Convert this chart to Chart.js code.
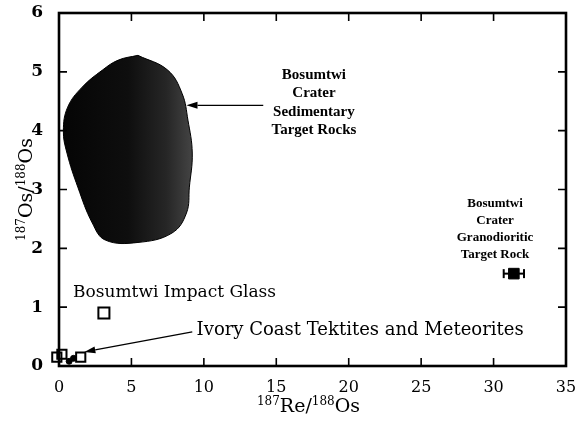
<!DOCTYPE html>
<html>
<head>
<meta charset="utf-8">
<script src="https://cdn.jsdelivr.net/npm/chart.js@4/dist/chart.umd.min.js"></script>
<style>
  html, body { margin: 0; padding: 0; background: #fff; }
  #wrap { width: 577px; height: 422px; }
</style>
</head>
<body>
<div id="wrap"><canvas id="c"></canvas></div>
<script>
// Re–Os isotope systematics: Bosumtwi crater rocks and Ivory Coast tektites
const xTicks = [0, 5, 10, 15, 20, 25, 30, 35];
const yTicks = [0, 1, 2, 3, 4, 5, 6];

// outline of the sedimentary target rock field (187Re/188Os vs 187Os/188Os)
const sedimentaryRe = [5.45, 7.5, 8.5, 8.9, 9.2, 9.0, 8.8, 7.8, 5.45, 3.2, 2.3, 1.3, 0.55, 0.3, 0.6, 1.6, 3.0, 4.1, 5.45];
const sedimentaryOs = [5.28, 5.03, 4.63, 4.18, 3.62, 3.04, 2.6, 2.26, 2.1, 2.14, 2.43, 3.04, 3.62, 4.0, 4.4, 4.74, 5.03, 5.2, 5.28];

// Bosumtwi impact glass
const glassRe = [3.1];
const glassOs = [0.9];

// Ivory Coast tektites (open squares) and meteorites (filled)
const tektiteRe = [-0.15, 0.2, 1.5];
const tektiteOs = [0.15, 0.2, 0.15];
const meteoriteRe = [0.7, 1.0];
const meteoriteOs = [0.08, 0.13];

// granodioritic target rock with 187Re/188Os uncertainty
const graniteRe = [31.4];
const graniteOs = [1.57];
const graniteReErr = [0.7];

// label texts
const labelSedimentary = ['Bosumtwi', 'Crater', 'Sedimentary', 'Target Rocks'];
const labelGranite = ['Bosumtwi', 'Crater', 'Granodioritic', 'Target Rock'];
const labelGlass = 'Bosumtwi Impact Glass';
const labelTektites = 'Ivory Coast Tektites and Meteorites';

const pts = (xs, ys) => xs.map((v, i) => ({ x: v, y: ys[i] }));

const errorBars = [];
graniteRe.forEach((v, i) => {
  errorBars.push({ x: v - graniteReErr[i], y: graniteOs[i] });
  errorBars.push({ x: v + graniteReErr[i], y: graniteOs[i] });
});

const SERIF = '"DejaVu Serif", "Liberation Serif", serif';
const BOLD_SERIF = '"Liberation Serif", serif';

function blobFill(ctx) {
  const chart = ctx.chart;
  if (!chart.chartArea) return '#111';
  const x = chart.scales.x;
  const x0 = x.getPixelForValue(Math.min(...sedimentaryRe));
  const x1 = x.getPixelForValue(Math.max(...sedimentaryRe));
  const g = chart.ctx.createLinearGradient(x0, 0, x1, 0);
  g.addColorStop(0, '#050505');
  g.addColorStop(0.5, '#0e0e0e');
  g.addColorStop(0.8, '#262626');
  g.addColorStop(1, '#444');
  return g;
}

// annotation placement in data units
const notes = {
  sedimentary: { x: 17.6, y: [4.95, 4.64, 4.32, 4.01] },
  sedArrow: { from: [14.1, 4.43], to: [8.8, 4.43] },
  granite: { x: 30.1, y: [2.76, 2.47, 2.18, 1.9] },
  glass: { x: 0.97, y: 1.24 },
  tektites: { x: 9.5, y: 0.61 },
  tekArrow: { from: [9.2, 0.58], to: [1.75, 0.24] }
};

function arrow(ctx, x0, y0, x1, y1) {
  const ang = Math.atan2(y1 - y0, x1 - x0);
  const hl = 11, hw = 3.5;
  const bx = x1 - hl * Math.cos(ang), by = y1 - hl * Math.sin(ang);
  ctx.beginPath();
  ctx.moveTo(x0, y0);
  ctx.lineTo(bx, by);
  ctx.stroke();
  ctx.beginPath();
  ctx.moveTo(x1, y1);
  ctx.lineTo(bx + hw * Math.sin(ang), by - hw * Math.cos(ang));
  ctx.lineTo(bx - hw * Math.sin(ang), by + hw * Math.cos(ang));
  ctx.closePath();
  ctx.fill();
}

// draws a title made of [text, isSuperscript] runs centred at 0,0
function drawRuns(ctx, runs, big, small) {
  let w = 0;
  runs.forEach(([t, sup]) => {
    ctx.font = (sup ? small : big) + 'px ' + SERIF;
    w += ctx.measureText(t).width;
  });
  let cx = -w / 2;
  ctx.textAlign = 'left';
  ctx.textBaseline = 'alphabetic';
  runs.forEach(([t, sup]) => {
    ctx.font = (sup ? small : big) + 'px ' + SERIF;
    ctx.fillText(t, cx, sup ? -7 : 0);
    cx += ctx.measureText(t).width;
  });
}

const decorations = {
  id: 'decorations',
  afterDraw(chart) {
    const { ctx, chartArea: a, scales: { x, y } } = chart;
    ctx.save();
    ctx.strokeStyle = '#000';
    ctx.fillStyle = '#000';

    // inward tick marks on all four sides
    ctx.lineWidth = 1.6;
    const L = 8;
    ctx.beginPath();
    xTicks.forEach(v => {
      const px = x.getPixelForValue(v);
      ctx.moveTo(px, a.bottom); ctx.lineTo(px, a.bottom - L);
      ctx.moveTo(px, a.top); ctx.lineTo(px, a.top + L);
    });
    yTicks.forEach(v => {
      const py = y.getPixelForValue(v);
      ctx.moveTo(a.left, py); ctx.lineTo(a.left + L, py);
      ctx.moveTo(a.right, py); ctx.lineTo(a.right - L, py);
    });
    ctx.stroke();

    // frame
    ctx.lineWidth = 2.6;
    ctx.strokeRect(a.left, a.top, a.right - a.left, a.bottom - a.top);

    // annotations
    ctx.textAlign = 'center';
    ctx.textBaseline = 'middle';
    ctx.font = 'bold 15px ' + BOLD_SERIF;
    labelSedimentary.forEach((t, i) => {
      ctx.fillText(t, x.getPixelForValue(notes.sedimentary.x), y.getPixelForValue(notes.sedimentary.y[i]));
    });
    ctx.font = 'bold 13px ' + BOLD_SERIF;
    labelGranite.forEach((t, i) => {
      ctx.fillText(t, x.getPixelForValue(notes.granite.x), y.getPixelForValue(notes.granite.y[i]));
    });
    ctx.textAlign = 'left';
    ctx.font = '17px ' + SERIF;
    ctx.fillText(labelGlass, x.getPixelForValue(notes.glass.x), y.getPixelForValue(notes.glass.y));
    ctx.font = '18px ' + SERIF;
    ctx.fillText(labelTektites, x.getPixelForValue(notes.tektites.x), y.getPixelForValue(notes.tektites.y));

    ctx.lineWidth = 1.4;
    const sa = notes.sedArrow, ta = notes.tekArrow;
    arrow(ctx, x.getPixelForValue(sa.from[0]), y.getPixelForValue(sa.from[1]),
               x.getPixelForValue(sa.to[0]), y.getPixelForValue(sa.to[1]));
    arrow(ctx, x.getPixelForValue(ta.from[0]), y.getPixelForValue(ta.from[1]),
               x.getPixelForValue(ta.to[0]), y.getPixelForValue(ta.to[1]));

    // axis titles with superscript mass numbers
    ctx.save();
    ctx.translate((a.left + a.right) / 2 - 4, 412);
    drawRuns(ctx, [['187', true], ['Re/', false], ['188', true], ['Os', false]], 19, 12);
    ctx.restore();
    ctx.save();
    ctx.translate(32, (a.top + a.bottom) / 2);
    ctx.rotate(-Math.PI / 2);
    drawRuns(ctx, [['187', true], ['Os/', false], ['188', true], ['Os', false]], 19, 12);
    ctx.restore();

    ctx.restore();
  }
};

new Chart(document.getElementById('c'), {
  type: 'scatter',
  data: {
    datasets: [
      {
        label: 'Granodioritic target rock',
        data: pts(graniteRe, graniteOs),
        pointStyle: 'rect',
        pointRadius: 7.5,
        backgroundColor: '#000',
        borderColor: '#000',
        borderWidth: 1,
        order: 1,
        clip: false
      },
      {
        label: 'Re/Os uncertainty',
        data: errorBars,
        showLine: true,
        borderColor: '#000',
        borderWidth: 2,
        pointStyle: 'line',
        rotation: 90,
        pointRadius: 4.5,
        pointBorderWidth: 2,
        pointBorderColor: '#000',
        order: 2,
        clip: false
      },
      {
        label: 'Impact glass',
        data: pts(glassRe, glassOs),
        pointStyle: 'rect',
        pointRadius: 7.8,
        backgroundColor: '#fff',
        borderColor: '#000',
        borderWidth: 2,
        order: 1,
        clip: false
      },
      {
        label: 'Meteorites',
        data: pts(meteoriteRe, meteoriteOs),
        pointStyle: 'circle',
        pointRadius: 3,
        backgroundColor: '#000',
        borderColor: '#000',
        borderWidth: 1,
        order: 0,
        clip: false
      },
      {
        label: 'Tektites',
        data: pts(tektiteRe, tektiteOs),
        pointStyle: 'rect',
        pointRadius: 6.5,
        backgroundColor: 'rgba(255,255,255,0)',
        borderColor: '#000',
        borderWidth: 2,
        order: 1,
        clip: false
      },
      {
        label: 'Sedimentary target rocks',
        data: pts(sedimentaryRe, sedimentaryOs),
        showLine: true,
        fill: 'shape',
        tension: 0.4,
        pointRadius: 0,
        borderWidth: 1,
        borderColor: '#000',
        backgroundColor: blobFill,
        order: 5
      }
    ]
  },
  options: {
    responsive: true,
    maintainAspectRatio: false,
    animation: false,
    events: [],
    layout: { padding: { left: 0, right: 11, top: 13, bottom: 0 } },
    plugins: { legend: { display: false }, tooltip: { enabled: false } },
    scales: {
      x: {
        type: 'linear',
        min: 0, max: 35,
        afterBuildTicks(s) { s.ticks = xTicks.map(v => ({ value: v })); },
        afterFit(s) { s.height = 56; s.paddingLeft = 0; s.paddingRight = 0; },
        grid: { display: false },
        border: { display: false },
        ticks: { color: '#000', padding: 4, font: { family: SERIF, size: 16 } }
      },
      y: {
        type: 'linear',
        min: 0, max: 6,
        afterBuildTicks(s) { s.ticks = yTicks.map(v => ({ value: v })); },
        afterFit(s) { s.width = 59; s.paddingTop = 0; s.paddingBottom = 0; },
        grid: { display: false },
        border: { display: false },
        ticks: { color: '#000', padding: 8, font: { family: SERIF, size: 17, weight: 'bold' } }
      }
    }
  },
  plugins: [decorations]
});
</script>
</body>
</html>
